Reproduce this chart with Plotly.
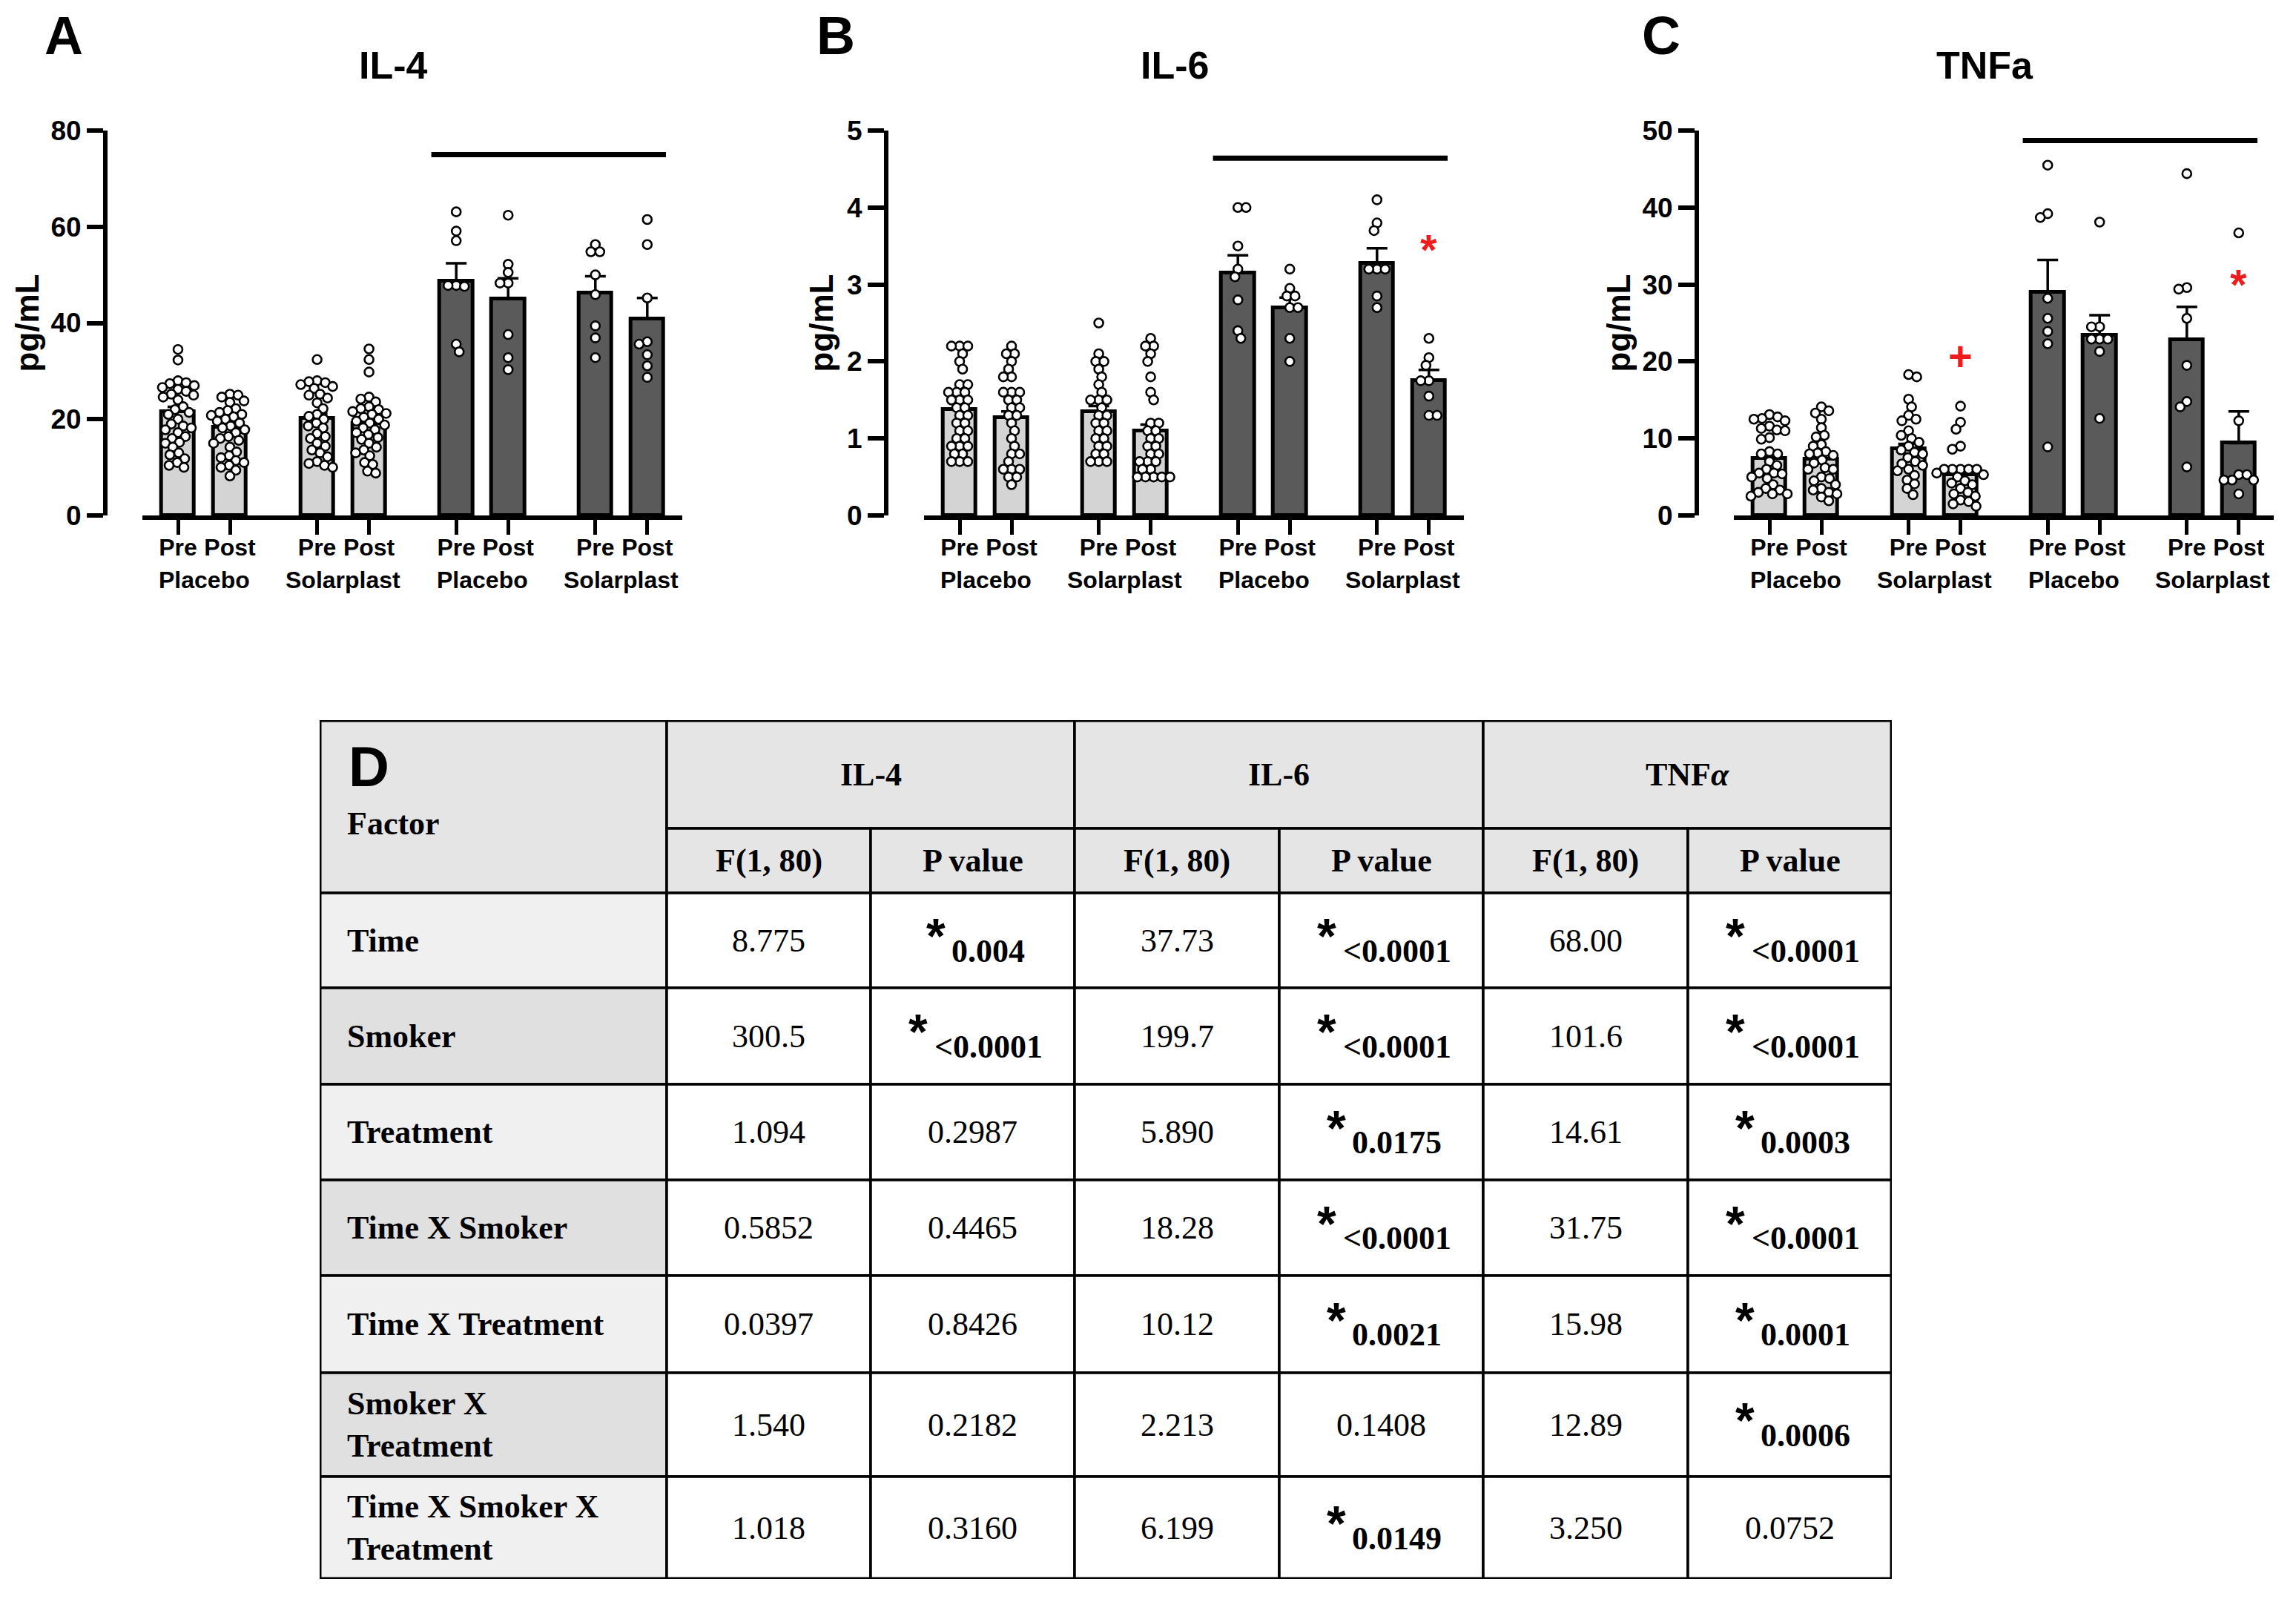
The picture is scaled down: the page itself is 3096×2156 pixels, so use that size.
import plotly.graph_objects as go

W, H = 3096, 2156
PAGE_OFFSET = 8  # default page body margin in the browser
SANS = "Liberation Sans, Arial, sans-serif"
SERIF = "Liberation Serif, Times New Roman, serif"

# ---------------- data ----------------
TIMES = ["Pre", "Post"]
GROUPS = ["Placebo", "Solarplast", "Placebo", "Solarplast"]
SMOKER_GROUP = [False, False, True, True]
PANEL_LETTERS = ["A", "B", "C"]
PANEL_TITLES = ["IL-4", "IL-6", "TNFa"]
Y_MAX = [80, 5, 50]
Y_TICKS = [[0, 20, 40, 60, 80], [0, 1, 2, 3, 4, 5], [0, 10, 20, 30, 40, 50]]
SIG_LEVEL = [75, 4.64, 48.7]

# order: NS-Placebo Pre/Post, NS-Solarplast Pre/Post, S-Placebo Pre/Post, S-Solarplast Pre/Post
IL4_MEAN = [21.6, 18.3, 20.2, 19.1, 48.7, 45.0, 46.3, 40.8]
IL4_SEM = [1.0, 0.8, 1.0, 0.8, 3.7, 4.3, 3.4, 4.4]
IL6_MEAN = [1.38, 1.27, 1.35, 1.10, 3.15, 2.70, 3.28, 1.75]
IL6_SEM = [0.07, 0.08, 0.07, 0.08, 0.23, 0.13, 0.19, 0.14]
TNF_MEAN = [7.45, 7.3, 8.7, 5.3, 29.0, 23.4, 22.8, 9.4]
TNF_SEM = [0.8, 0.6, 0.6, 0.6, 4.2, 2.6, 4.3, 4.1]

IL4_POINTS = [
    [34.5, 32.3, 28.0, 27.6, 27.4, 27.0, 26.6, 26.2, 25.8, 25.2, 25.0, 24.6, 24.0, 22.6, 22.0, 21.4, 21.0,
     20.0, 19.0, 18.6, 18.2, 17.8, 17.2, 16.4, 16.0, 15.2, 15.0, 14.2, 13.0, 12.6, 11.8, 11.0, 10.4, 10.0],
    [25.2, 25.0, 24.6, 23.8, 23.5, 22.2, 21.8, 21.4, 21.0, 20.8, 20.5, 20.0, 19.6, 19.2, 18.6, 18.2, 17.8,
     17.2, 16.4, 16.0, 15.6, 15.0, 14.2, 13.2, 12.4, 12.0, 11.4, 11.0, 10.4, 10.0, 9.4, 8.2],
    [32.4, 28.0, 27.8, 27.6, 27.2, 26.8, 26.4, 25.2, 25.0, 24.4, 23.4, 22.2, 21.0, 20.6, 20.0, 19.2, 18.6,
     18.2, 17.0, 16.4, 16.0, 15.0, 14.4, 13.6, 13.0, 12.2, 11.2, 10.8, 10.4, 10.0],
    [34.6, 32.4, 29.8, 24.6, 24.2, 23.6, 22.6, 22.2, 22.0, 21.6, 21.2, 21.0, 20.4, 20.0, 19.6, 19.2, 18.8,
     18.2, 17.8, 17.2, 16.8, 16.2, 15.8, 15.0, 14.2, 13.6, 13.0, 12.4, 11.0, 10.6, 9.2, 8.8],
    [63.1, 59.1, 57.1, 47.8, 47.8, 47.6, 35.6, 34.0],
    [62.4, 52.2, 50.5, 48.3, 48.3, 37.6, 32.8, 30.3],
    [56.3, 54.8, 54.8, 50.0, 45.9, 39.4, 36.9, 32.8],
    [61.5, 56.3, 45.2, 36.1, 35.6, 33.4, 31.1, 28.7],
]
IL6_POINTS = [
    [2.2, 2.2, 2.2, 2.1, 2.0, 1.9, 1.7, 1.7, 1.6, 1.6, 1.6, 1.5, 1.5, 1.5, 1.4, 1.4, 1.3, 1.3, 1.2, 1.2,
     1.1, 1.1, 1.0, 1.0, 0.9, 0.9, 0.9, 0.8, 0.8, 0.7, 0.7, 0.7],
    [2.2, 2.1, 2.1, 2.0, 1.9, 1.8, 1.8, 1.6, 1.6, 1.6, 1.5, 1.5, 1.4, 1.4, 1.3, 1.3, 1.2, 1.1, 1.0, 0.9,
     0.8, 0.8, 0.7, 0.6, 0.6, 0.6, 0.5, 0.5, 0.4],
    [2.5, 2.1, 2.0, 2.0, 1.9, 1.8, 1.7, 1.6, 1.5, 1.5, 1.5, 1.4, 1.3, 1.3, 1.2, 1.2, 1.1, 1.1, 1.0, 1.0,
     0.9, 0.9, 0.8, 0.8, 0.7, 0.7, 0.7],
    [2.3, 2.2, 2.2, 2.1, 2.0, 1.8, 1.6, 1.5, 1.2, 1.2, 1.1, 1.1, 1.0, 1.0, 0.9, 0.9, 0.8, 0.8, 0.7, 0.7,
     0.7, 0.6, 0.6, 0.5, 0.5, 0.5, 0.5, 0.5],
    [4.0, 4.0, 3.5, 3.2, 3.1, 2.8, 2.4, 2.3],
    [3.2, 2.95, 2.85, 2.85, 2.7, 2.7, 2.3, 2.0],
    [4.1, 3.8, 3.7, 3.2, 3.2, 3.2, 2.85, 2.7],
    [2.3, 2.05, 1.95, 1.75, 1.75, 1.55, 1.3, 1.3],
]
TNF_POINTS = [
    [13.1, 12.8, 12.6, 12.5, 12.3, 11.6, 11.3, 11.1, 11.0, 10.1, 9.9, 8.3, 8.0, 8.0, 7.0, 6.5, 6.0, 5.5,
     5.5, 5.4, 5.0, 4.8, 4.0, 3.5, 3.3, 3.0, 2.8, 2.8, 2.5],
    [14.1, 13.6, 13.3, 12.5, 11.4, 10.4, 10.2, 9.2, 9.0, 8.3, 8.1, 8.0, 7.8, 7.2, 6.8, 6.2, 6.0, 6.0,
     5.0, 4.8, 4.5, 4.0, 3.5, 3.3, 3.0, 2.8, 2.4, 1.9],
    [18.3, 18.0, 15.1, 14.1, 13.0, 12.5, 12.3, 11.0, 10.4, 10.0, 9.5, 9.0, 8.5, 8.2, 8.0, 7.5, 7.0, 6.7,
     6.5, 6.0, 5.8, 5.2, 4.6, 4.1, 3.5, 2.7],
    [14.2, 12.1, 11.2, 9.0, 8.6, 6.0, 6.0, 6.0, 6.0, 6.0, 5.5, 5.3, 5.0, 4.5, 4.2, 4.0, 3.5, 3.0, 2.8,
     2.5, 2.0, 1.8, 1.5, 1.2],
    [45.5, 39.2, 38.7, 28.2, 25.6, 23.9, 22.3, 8.9],
    [38.1, 24.5, 24.5, 22.9, 22.9, 22.9, 21.3, 12.6],
    [44.4, 29.6, 29.4, 25.6, 19.5, 14.8, 14.1, 6.3],
    [36.7, 12.3, 5.3, 5.3, 4.6, 4.6, 4.6, 2.8],
]
PANEL_MEANS = [IL4_MEAN, IL6_MEAN, TNF_MEAN]
PANEL_SEMS = [IL4_SEM, IL6_SEM, TNF_SEM]
PANEL_POINTS = [IL4_POINTS, IL6_POINTS, TNF_POINTS]

# red markers: (panel, bar index, y value, symbol)
RED_MARKS = [(1, 7, 3.5, "*"), (2, 3, 21.0, "+"), (2, 7, 30.5, "*")]

# table data
FACTORS = ["Time", "Smoker", "Treatment", "Time X Smoker", "Time X Treatment",
           "Smoker X<br>Treatment", "Time X Smoker X<br>Treatment"]
CYTOKINES = ["IL-4", "IL-6", "TNF<i>α</i>"]
STAT_HEADERS = ["F(1, 80)", "P value"]
IL4_F = ["8.775", "300.5", "1.094", "0.5852", "0.0397", "1.540", "1.018"]
IL4_P = ["0.004", "<0.0001", "0.2987", "0.4465", "0.8426", "0.2182", "0.3160"]
IL6_F = ["37.73", "199.7", "5.890", "18.28", "10.12", "2.213", "6.199"]
IL6_P = ["<0.0001", "<0.0001", "0.0175", "<0.0001", "0.0021", "0.1408", "0.0149"]
TNF_F = ["68.00", "101.6", "14.61", "31.75", "15.98", "12.89", "3.250"]
TNF_P = ["<0.0001", "<0.0001", "0.0003", "<0.0001", "0.0001", "0.0006", "0.0752"]
TABLE_F = [IL4_F, IL6_F, TNF_F]
TABLE_P = [IL4_P, IL6_P, TNF_P]

# ---------------- layout constants ----------------
PAIR = 2.68          # spacing between group pairs (x units)
UNIT_PX = 70.0       # px per x unit
BAR_W = 0.63
X_RANGE = [-0.69, 3 * PAIR + 1 + 0.67]
FIRST_TICK_PX = [240, 1294, 2386]
YAXIS_PX = [142, 1195, 2288]
LETTER_X_PX = [86, 1127, 2240]
Y_TOP_PX, Y_BOT_PX = 176, 695
LIGHT, DARK = "#d4d4d4", "#5a5a5a"


def px(x):
    return (x - PAGE_OFFSET) / W


def py(y):
    return 1 - (y - PAGE_OFFSET) / H


def swarm(values, ypx, d=11.0, step=1.0):
    placed, offs = [], [0.0] * len(values)
    order = sorted(range(len(values)), key=lambda i: -values[i])
    for n, i in enumerate(order):
        y = values[i] * ypx
        k = 0
        found = None
        while found is None:
            if k == 0:
                cands = [0.0]
            else:
                cands = [-k * step, k * step] if n % 2 == 0 else [k * step, -k * step]
            for c in cands:
                if all((c - a) ** 2 + (y - b) ** 2 >= d * d for a, b in placed):
                    found = c
                    break
            k += 1
        placed.append((found, y))
        offs[i] = found
    return offs


fig = go.Figure()
annotations = []
shapes = []
layout_axes = {}

bar_x = [g * PAIR + t for g in range(len(GROUPS)) for t in range(len(TIMES))]
bar_colors = [DARK if SMOKER_GROUP[g] else LIGHT for g in range(len(GROUPS)) for t in range(len(TIMES))]
tick_text = ["<b>%s</b>" % TIMES[t] for g in range(len(GROUPS)) for t in range(len(TIMES))]

for p in range(3):
    xa = "x" if p == 0 else "x%d" % (p + 1)
    ya = "y" if p == 0 else "y%d" % (p + 1)
    xkey = "xaxis" if p == 0 else "xaxis%d" % (p + 1)
    ykey = "yaxis" if p == 0 else "yaxis%d" % (p + 1)
    ymax = Y_MAX[p]
    ypx = (Y_BOT_PX - Y_TOP_PX) / ymax
    d0 = FIRST_TICK_PX[p] + X_RANGE[0] * UNIT_PX
    d1 = FIRST_TICK_PX[p] + X_RANGE[1] * UNIT_PX

    fig.add_trace(go.Bar(
        x=bar_x, y=PANEL_MEANS[p], width=BAR_W, xaxis=xa, yaxis=ya,
        marker=dict(color=bar_colors, line=dict(color="black", width=5)),
        error_y=dict(type="data", array=PANEL_SEMS[p], arrayminus=[0] * 8, symmetric=False,
                     color="black", thickness=3.5, width=14),
        showlegend=False, hoverinfo="skip"))

    sx, sy = [], []
    for i, vals in enumerate(PANEL_POINTS[p]):
        offs = swarm(vals, ypx)
        sx += [bar_x[i] + o / UNIT_PX for o in offs]
        sy += vals
    fig.add_trace(go.Scatter(
        x=sx, y=sy, mode="markers", xaxis=xa, yaxis=ya, cliponaxis=False,
        marker=dict(size=12, color="white", line=dict(color="black", width=2.6)),
        showlegend=False, hoverinfo="skip"))

    layout_axes[xkey] = dict(
        domain=[px(d0), px(d1)], range=X_RANGE, anchor=ya, showline=True, linewidth=6,
        linecolor="black", ticks="outside", ticklen=20, tickwidth=5, tickcolor="black",
        tickvals=bar_x, ticktext=tick_text, tickfont=dict(size=32, family=SANS, color="black"),
        ticklabelstandoff=-10, automargin=False,
        showgrid=False, zeroline=False, fixedrange=True)
    layout_axes[ykey] = dict(
        domain=[py(Y_BOT_PX), py(Y_TOP_PX)], range=[0, ymax], anchor="free",
        position=px(YAXIS_PX[p]), showline=True, linewidth=6, linecolor="black",
        ticks="outside", ticklen=22, tickwidth=6, tickcolor="black",
        tickvals=Y_TICKS[p], ticktext=["<b>%d</b>" % v for v in Y_TICKS[p]],
        tickfont=dict(size=37, family=SANS, color="black"), automargin=False,
        showgrid=False, zeroline=False, fixedrange=True)

    # y-axis title
    annotations.append(dict(
        x=px(YAXIS_PX[p] - 106 if p != 1 else YAXIS_PX[p] - 88), y=py((Y_TOP_PX + Y_BOT_PX) / 2),
        xref="paper", yref="paper", text="<b>pg/mL</b>", textangle=-90, showarrow=False,
        xanchor="center", yanchor="middle", font=dict(size=44, family=SANS, color="black")))
    # group labels
    for g in range(len(GROUPS)):
        annotations.append(dict(
            x=g * PAIR + 0.5, y=py(782), xref=xa, yref="paper", text="<b>%s</b>" % GROUPS[g],
            showarrow=False, xanchor="center", yanchor="middle",
            font=dict(size=32, family=SANS, color="black")))
    # title & letter
    annotations.append(dict(
        x=px((YAXIS_PX[p] + d1) / 2), y=py(88), xref="paper", yref="paper",
        text="<b>%s</b>" % PANEL_TITLES[p], showarrow=False, xanchor="center", yanchor="middle",
        font=dict(size=52, family=SANS, color="black")))
    annotations.append(dict(
        x=px(LETTER_X_PX[p]), y=py(48), xref="paper", yref="paper",
        text="<b>%s</b>" % PANEL_LETTERS[p], showarrow=False, xanchor="center", yanchor="middle",
        font=dict(size=72, family=SANS, color="black")))
    # significance bar over smokers
    shapes.append(dict(type="line", xref=xa, yref=ya,
                       x0=bar_x[4] - 0.48, x1=bar_x[7] + 0.36, y0=SIG_LEVEL[p], y1=SIG_LEVEL[p],
                       line=dict(color="black", width=7)))

for (p, i, yv, sym) in RED_MARKS:
    xa = "x" if p == 0 else "x%d" % (p + 1)
    ya = "y" if p == 0 else "y%d" % (p + 1)
    annotations.append(dict(
        x=bar_x[i], y=yv, xref=xa, yref=ya, text="<b>%s</b>" % sym, showarrow=False,
        xanchor="center", yanchor="middle", yshift=-5 if sym == "*" else -2,
        font=dict(size=58 if sym == "*" else 56, family=SANS, color="#ee1c1c")))

# ---------------- table ----------------
COL_W = [468, 275, 275, 276, 275, 276, 275]
ROW_H = [146, 87, 128, 130, 129, 129, 131, 140, 138]
TBL_LEFT, TBL_TOP = 431, 971
col_edges = [0]
for w in COL_W:
    col_edges.append(col_edges[-1] + w)
row_edges = [0]
for h in ROW_H:
    row_edges.append(row_edges[-1] + h)
TW, TH = col_edges[-1], row_edges[-1]

layout_axes["xaxis4"] = dict(domain=[px(TBL_LEFT), px(TBL_LEFT + TW)], range=[0, TW], anchor="y4",
                             visible=False, fixedrange=True, automargin=False)
layout_axes["yaxis4"] = dict(domain=[py(TBL_TOP + TH), py(TBL_TOP)], range=[TH, 0], anchor="x4",
                             visible=False, fixedrange=True, automargin=False)
fig.add_trace(go.Scatter(x=[0], y=[0], xaxis="x4", yaxis="y4", mode="markers",
                         marker=dict(opacity=0), showlegend=False, hoverinfo="skip"))

HEAD_FILL = "#e5e5e5"
LBL_FILLS = ["#f0f0f0", "#e0e0e0"]


def cell(c0, c1, r0, r1, fill):
    shapes.append(dict(type="rect", xref="x4", yref="y4", x0=col_edges[c0], x1=col_edges[c1],
                       y0=row_edges[r0], y1=row_edges[r1], fillcolor=fill,
                       line=dict(color="black", width=3.5), layer="below"))


def ttext(x, y, text, size=44, bold=False, anchor="center", family=SERIF):
    annotations.append(dict(x=x, y=y, xref="x4", yref="y4", text=("<b>%s</b>" % text) if bold else text,
                            showarrow=False, xanchor=anchor, yanchor="middle", align="left",
                            font=dict(size=size, family=family, color="black")))


def ccenter(c0, c1):
    return (col_edges[c0] + col_edges[c1]) / 2


def rcenter(r0, r1):
    return (row_edges[r0] + row_edges[r1]) / 2


# header cells
cell(0, 1, 0, 2, HEAD_FILL)
for k in range(3):
    cell(1 + 2 * k, 3 + 2 * k, 0, 1, HEAD_FILL)
    ttext(ccenter(1 + 2 * k, 3 + 2 * k), rcenter(0, 1), CYTOKINES[k], bold=True)
    for s in range(2):
        c = 1 + 2 * k + s
        cell(c, c + 1, 1, 2, HEAD_FILL)
        ttext(ccenter(c, c + 1), rcenter(1, 2), STAT_HEADERS[s], bold=True)
ttext(37, 62, "D", size=76, bold=True, anchor="left", family=SANS)
ttext(35, 139, "Factor", bold=True, anchor="left")


def text_width(s, size):
    wmap = {".": 0.25, "<": 0.57}
    return sum(wmap.get(ch, 0.5) for ch in s) * size


for r, fac in enumerate(FACTORS):
    rr = r + 2
    cell(0, 1, rr, rr + 1, LBL_FILLS[r % 2])
    ttext(35, rcenter(rr, rr + 1), fac, bold=True, anchor="left")
    for k in range(3):
        cf, cp = 1 + 2 * k, 2 + 2 * k
        cell(cf, cf + 1, rr, rr + 1, "white")
        cell(cp, cp + 1, rr, rr + 1, "white")
        ttext(ccenter(cf, cf + 1), rcenter(rr, rr + 1), TABLE_F[k][r])
        pv = TABLE_P[k][r]
        sig = float(pv.replace("<", "")) < 0.05
        label = pv.replace("<", "&lt;")
        cx, cy = ccenter(cp, cp + 1), rcenter(rr, rr + 1)
        if sig:
            vx = cx + 21
            ttext(vx, cy + 14, label, bold=True)
            left = vx - text_width(pv, 44) / 2
            ttext(left - 6, cy - 6, "*", size=66, bold=True, anchor="right", family=SANS)
        else:
            ttext(cx, cy, label)

shapes.append(dict(type="rect", xref="x4", yref="y4", x0=0, x1=TW, y0=0, y1=TH,
                   line=dict(color="black", width=5), fillcolor="rgba(0,0,0,0)"))

fig.update_layout(
    width=W, height=H, margin=dict(l=0, r=0, t=0, b=0, autoexpand=False),
    paper_bgcolor="white", plot_bgcolor="white", showlegend=False,
    bargap=0, annotations=annotations, shapes=shapes, **layout_axes)

fig.write_html("out.html")
